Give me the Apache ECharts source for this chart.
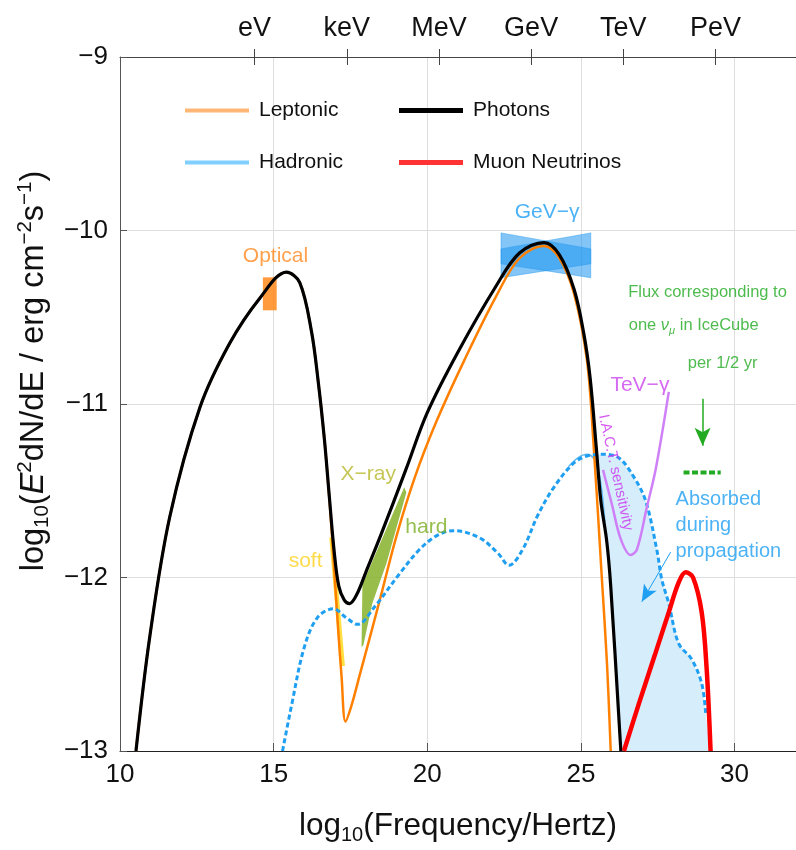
<!DOCTYPE html>
<html>
<head>
<meta charset="utf-8">
<script src="https://cdn.jsdelivr.net/npm/echarts@6/dist/echarts.min.js"></script>
<style>
  html, body { margin: 0; background: #fff; }
  #chart { width: 796px; height: 850px; }
</style>
</head>
<body>
<div id="chart"></div>
<script>
// values: [log10(freq/Hz), log10(E^2 dN/dE)]
var photons = [[10.52,-13],[10.97,-12.34],[11.62,-11.65],[12.6,-11.02],[13.57,-10.65],[14.55,-10.39],[15.42,-10.24],[15.85,-10.3],[16.23,-10.58],[16.45,-10.87],[16.65,-11.2],[16.82,-11.55],[16.97,-11.85],[17.12,-12.05],[17.3,-12.13],[17.47,-12.15],[17.7,-12.1],[18.0,-11.97],[18.5,-11.75],[19.3,-11.38],[20.0,-11.05],[21.0,-10.7],[22.24,-10.32],[23.0,-10.13],[23.8,-10.07],[24.3,-10.14],[24.78,-10.34],[25.1,-10.6],[25.3,-10.85],[25.5,-11.25],[25.65,-11.56],[25.84,-11.79],[25.97,-12.05],[26.3,-13]];
var leptonic = [[10.52,-13],[10.97,-12.34],[11.62,-11.65],[12.6,-11.02],[13.57,-10.65],[14.55,-10.39],[15.42,-10.24],[15.85,-10.3],[16.23,-10.58],[16.45,-10.87],[16.65,-11.2],[16.82,-11.56],[16.97,-11.95],[17.1,-12.3],[17.21,-12.57],[17.34,-12.83],[17.53,-12.74],[17.79,-12.57],[18.44,-12.14],[19.0,-11.76],[19.6,-11.42],[20.3,-11.1],[21.2,-10.75],[22.24,-10.38],[23.0,-10.16],[23.8,-10.09],[24.3,-10.16],[24.77,-10.36],[25.19,-10.74],[25.4,-11.2],[25.68,-12.0],[25.85,-12.5],[25.97,-13]];
var hadronic = [[15.29,-13],[15.58,-12.74],[16.0,-12.4],[16.43,-12.23],[16.95,-12.18],[17.35,-12.23],[17.73,-12.27],[18.28,-12.17],[19.09,-11.98],[19.74,-11.84],[20.3,-11.76],[20.85,-11.73],[21.69,-11.77],[22.3,-11.86],[22.66,-11.93],[23.1,-11.84],[23.6,-11.64],[24.12,-11.48],[24.77,-11.34],[25.2,-11.3],[25.7,-11.29],[26.23,-11.31],[26.72,-11.42],[27.11,-11.56],[27.47,-11.84],[27.63,-12.01],[27.86,-12.15],[28.18,-12.38],[28.6,-12.47],[28.93,-12.61],[29.06,-12.78]];
var hadronicAbsorbed = [[24.6,-11.36],[24.9,-11.31],[25.2,-11.29],[25.4,-11.31],[25.55,-11.37],[25.68,-11.5],[25.78,-11.68]];
var absorbedFoot = [[29.2,-13],[26.3,-13]];
var neutrinos = [[26.4,-13],[26.9,-12.72],[27.4,-12.45],[27.86,-12.2],[28.18,-12.03],[28.41,-11.97],[28.65,-12.0],[28.93,-12.2],[29.09,-12.52],[29.22,-13]];
var tevSensitivity = [[25.72,-11.38],[26.01,-11.58],[26.3,-11.78],[26.62,-11.87],[26.82,-11.84],[27.14,-11.6],[27.44,-11.37],[27.86,-10.93]];
var opticalBox = [[14.65,-10.27],[15.1,-10.27],[15.1,-10.46],[14.65,-10.46]];
var gevBowA = [[22.4,-10.014],[25.32,-10.106],[25.32,-10.272],[22.4,-10.192]];
var gevBowB = [[22.4,-10.106],[25.32,-10.014],[25.32,-10.192],[22.4,-10.272]];
var softX = [[16.81,-11.77],[16.96,-11.77],[17.32,-12.51],[17.17,-12.51]];
var hardX = [[17.86,-12.4],[17.89,-12.04],[19.25,-11.48],[19.32,-11.51],[18.67,-11.92],[18.21,-12.15],[17.92,-12.39]];
var icecubeArrow = [[28.96,-10.97],[28.96,-11.24]];
var icecubeLevel = [[28.34,-11.395],[29.55,-11.395]];
var absorbedArrow = [[27.92,-11.854],[26.98,-12.14]];

var bottomTicks = [10, 15, 20, 25, 30];
var topTickValues = [14.38, 17.38, 20.38, 23.38, 26.38, 29.38];
var topTickLabels = ['eV', 'keV', 'MeV', 'GeV', 'TeV', 'PeV'];

var FONT = '"Liberation Sans", Arial, Helvetica, sans-serif';

// the light blue band between unabsorbed and absorbed hadronic emission
var absorbedFill = hadronic.filter(function (p) { return p[0] >= 25.2; })
  .concat(absorbedFoot)
  .concat(photons.filter(function (p) { return p[0] > 25.78 && p[0] < 26.3; }).reverse())
  .concat(hadronicAbsorbed.filter(function (p) { return p[0] >= 25.2; }).reverse());

function polygon(name, pts, fill, opacity, z, stroke) {
  return {
    type: 'custom', name: name, silent: true, z: z,
    data: [pts[0]],
    renderItem: function (params, api) {
      return {
        type: 'polygon',
        shape: { points: pts.map(function (p) { return api.coord(p); }) },
        style: { fill: fill, opacity: opacity, stroke: stroke || null, lineWidth: stroke ? 1 : 0 }
      };
    }
  };
}

function curve(name, pts, color, width, z, dash) {
  return {
    type: 'line', name: name, data: pts, z: z,
    smooth: 0.35, showSymbol: false, symbol: 'none', silent: true,
    lineStyle: { color: color, width: width, type: dash || 'solid' }
  };
}

function arrow(pts, color, width, size) {
  return {
    type: 'line', data: [], silent: true, z: 9,
    markLine: {
      silent: true, symbol: ['none', 'arrow'], symbolSize: size,
      label: { show: false },
      lineStyle: { color: color, width: width, type: 'solid' },
      data: [[{ coord: pts[0] }, { coord: pts[1] }]]
    }
  };
}

function note(x, y, text, color, size, extra) {
  var label = { show: true, position: 'inside', formatter: text, color: color, fontSize: size, fontFamily: FONT };
  if (extra) for (var k in extra) label[k] = extra[k];
  return { value: [x, y], label: label };
}

function legendItem(name, left, top, color, h) {
  return {
    left: left, top: top, selectedMode: false,
    itemWidth: 64, itemHeight: h,
    textStyle: { fontSize: 21, color: '#111', fontFamily: FONT, padding: [0, 0, 0, 5] },
    data: [{ name: name, icon: 'rect', itemStyle: { color: color } }]
  };
}

var chart = echarts.init(document.getElementById('chart'));

var tickFont = { fontSize: 26, color: '#111', fontFamily: FONT };

chart.setOption({
  animation: false,
  backgroundColor: '#fff',
  grid: { left: 120, top: 57, width: 678, height: 698 },
  legend: [
    legendItem('Leptonic', 180, 95, '#ffb877', 4),
    legendItem('Photons', 394, 95, '#000', 5),
    legendItem('Hadronic', 180, 147, '#80cfff', 4),
    legendItem('Muon Neutrinos', 394, 147, '#ff3333', 5)
  ],
  xAxis: [
    {
      type: 'value', min: 10, max: 32, interval: 5, position: 'bottom',
      name: '{n|log}{s|10}{n|(Frequency/Hertz)}', nameLocation: 'middle', nameGap: 56,
      nameTextStyle: {
        fontFamily: FONT, color: '#111',
        rich: {
          n: { fontSize: 31.5, fontFamily: FONT, color: '#111', lineHeight: 38 },
          s: { fontSize: 20, fontFamily: FONT, color: '#111', lineHeight: 23, verticalAlign: 'bottom' }
        }
      },
      axisLine: { lineStyle: { color: '#222', width: 1 } },
      axisTick: { inside: true, length: 8, customValues: bottomTicks, lineStyle: { color: '#555' } },
      axisLabel: Object.assign({ customValues: bottomTicks, margin: 11 }, tickFont),
      splitLine: { show: true, lineStyle: { color: '#dedede', width: 1 } }
    },
    {
      type: 'value', min: 10, max: 32, position: 'top', gridIndex: 0,
      axisLine: { show: true, lineStyle: { color: '#444', width: 1 } },
      axisTick: { show: true, inside: true, length: 8, customValues: topTickValues, lineStyle: { color: '#444' } },
      axisLabel: Object.assign({
        customValues: topTickValues, margin: 15, fontSize: 27,
        formatter: function (v) {
          for (var i = 0; i < topTickValues.length; i++) {
            if (Math.abs(v - topTickValues[i]) < 1e-6) return topTickLabels[i];
          }
          return '';
        }
      }, { color: '#111', fontFamily: FONT }),
      splitLine: { show: false }
    },
    {
      type: 'value', min: 10, max: 32, position: 'top', gridIndex: 0,
      axisLine: { show: false },
      axisTick: { show: true, inside: false, length: 8, customValues: topTickValues, lineStyle: { color: '#444' } },
      axisLabel: { show: false },
      splitLine: { show: false }
    }
  ],
  yAxis: {
    type: 'value', min: -13, max: -9, interval: 1,
    name: '{n|log}{s|10}{n|(}{i|E}{p|2}{n|dN/dE / erg cm}{p|−2}{n|s}{p|−1}{n|)}',
    nameLocation: 'middle', nameRotate: 90, nameGap: 54,
    nameTextStyle: {
      fontFamily: FONT, color: '#111', padding: [0, 0, 0, 66],
      rich: {
        n: { fontSize: 32.5, fontFamily: FONT, color: '#111', lineHeight: 38 },
        i: { fontSize: 32.5, fontFamily: FONT, color: '#111', lineHeight: 38, fontStyle: 'italic' },
        s: { fontSize: 20.5, fontFamily: FONT, color: '#111', lineHeight: 23, verticalAlign: 'bottom' },
        p: { fontSize: 20.5, fontFamily: FONT, color: '#111', lineHeight: 23, verticalAlign: 'top' }
      }
    },
    axisLine: { show: true, lineStyle: { color: '#555', width: 1 } },
    axisTick: { show: true, inside: true, length: 7, lineStyle: { color: '#555' } },
    axisLabel: Object.assign({
      margin: 12,
      formatter: function (v) { return (v < 0 ? '−' : '') + Math.abs(v); }
    }, tickFont),
    splitLine: { show: true, lineStyle: { color: '#dedede', width: 1 } }
  },
  series: [
    polygon('absorbed', absorbedFill, '#d6edfc', 1, 1),
    polygon('gevA', gevBowA, '#1e96f0', 0.55, 2, 'rgba(30,150,240,0.8)'),
    polygon('gevB', gevBowB, '#1e96f0', 0.55, 2, 'rgba(30,150,240,0.8)'),
    polygon('optical', opticalBox, '#ff8a1a', 0.85, 2),
    polygon('softX', softX, '#ffd400', 0.75, 2),
    polygon('hardX', hardX, '#86b22a', 0.85, 2),
    curve('Hadronic absorbed', hadronicAbsorbed, '#5fb8f0', 1.5, 3),
    curve('Leptonic', leptonic, '#ff8000', 2.5, 4),
    curve('Hadronic', hadronic, '#1e9ff2', 3, 5, [5, 3]),
    curve('TeV sensitivity', tevSensitivity, '#cf80f7', 2.5, 5),
    curve('Photons', photons, '#000', 3.2, 6),
    curve('Muon Neutrinos', neutrinos, '#ff0000', 4.5, 7),
    {
      type: 'line', name: 'icecube level', data: icecubeLevel, silent: true, z: 8,
      showSymbol: false, symbol: 'none',
      lineStyle: { color: '#22aa22', width: 4, type: [6, 2.5] }
    },
    arrow(icecubeArrow, '#22aa22', 1.5, [12, 18]),
    arrow(absorbedArrow, '#1e9ff2', 1, [11, 17]),
    {
      type: 'scatter', name: 'notes', symbolSize: 0, silent: true, z: 10,
      data: [
        note(15.06, -10.146, 'Optical', '#ff8a1f', 21),
        note(23.9, -9.894, 'GeV−γ', '#1e9ff2', 21),
        note(18.08, -11.407, 'X−ray', '#b8b82a', 21),
        note(19.97, -11.71, 'hard', '#7aae22', 21),
        note(16.04, -11.905, 'soft', '#ffd21e', 21),
        note(26.92, -10.891, 'TeV−γ', '#cc44ee', 21),
        note(26.13, -11.395, 'I.A.C.T. sensitivity', '#cc33ee', 15, { rotate: -77.7 }),
        note(29.12, -10.358, 'Flux corresponding to', '#22aa22', 16.5),
        note(28.67, -10.547, 'one {i|ν}{sb|μ} in IceCube', '#22aa22', 16.5, {
          rich: {
            i: { fontStyle: 'italic', fontSize: 16.5, color: '#22aa22', fontFamily: FONT, lineHeight: 22 },
            sb: { fontStyle: 'italic', fontSize: 11, color: '#22aa22', fontFamily: FONT, lineHeight: 14, verticalAlign: 'bottom' }
          }
        }),
        note(29.61, -10.765, 'per 1/2 yr', '#22aa22', 16.5),
        note(28.08, -11.7, 'Absorbed\nduring\npropagation', '#1e9ff2', 20, {
          position: 'right', distance: 0, align: 'left', lineHeight: 26
        })
      ]
    }
  ]
});

window.addEventListener('resize', function () { chart.resize(); });
</script>
</body>
</html>
